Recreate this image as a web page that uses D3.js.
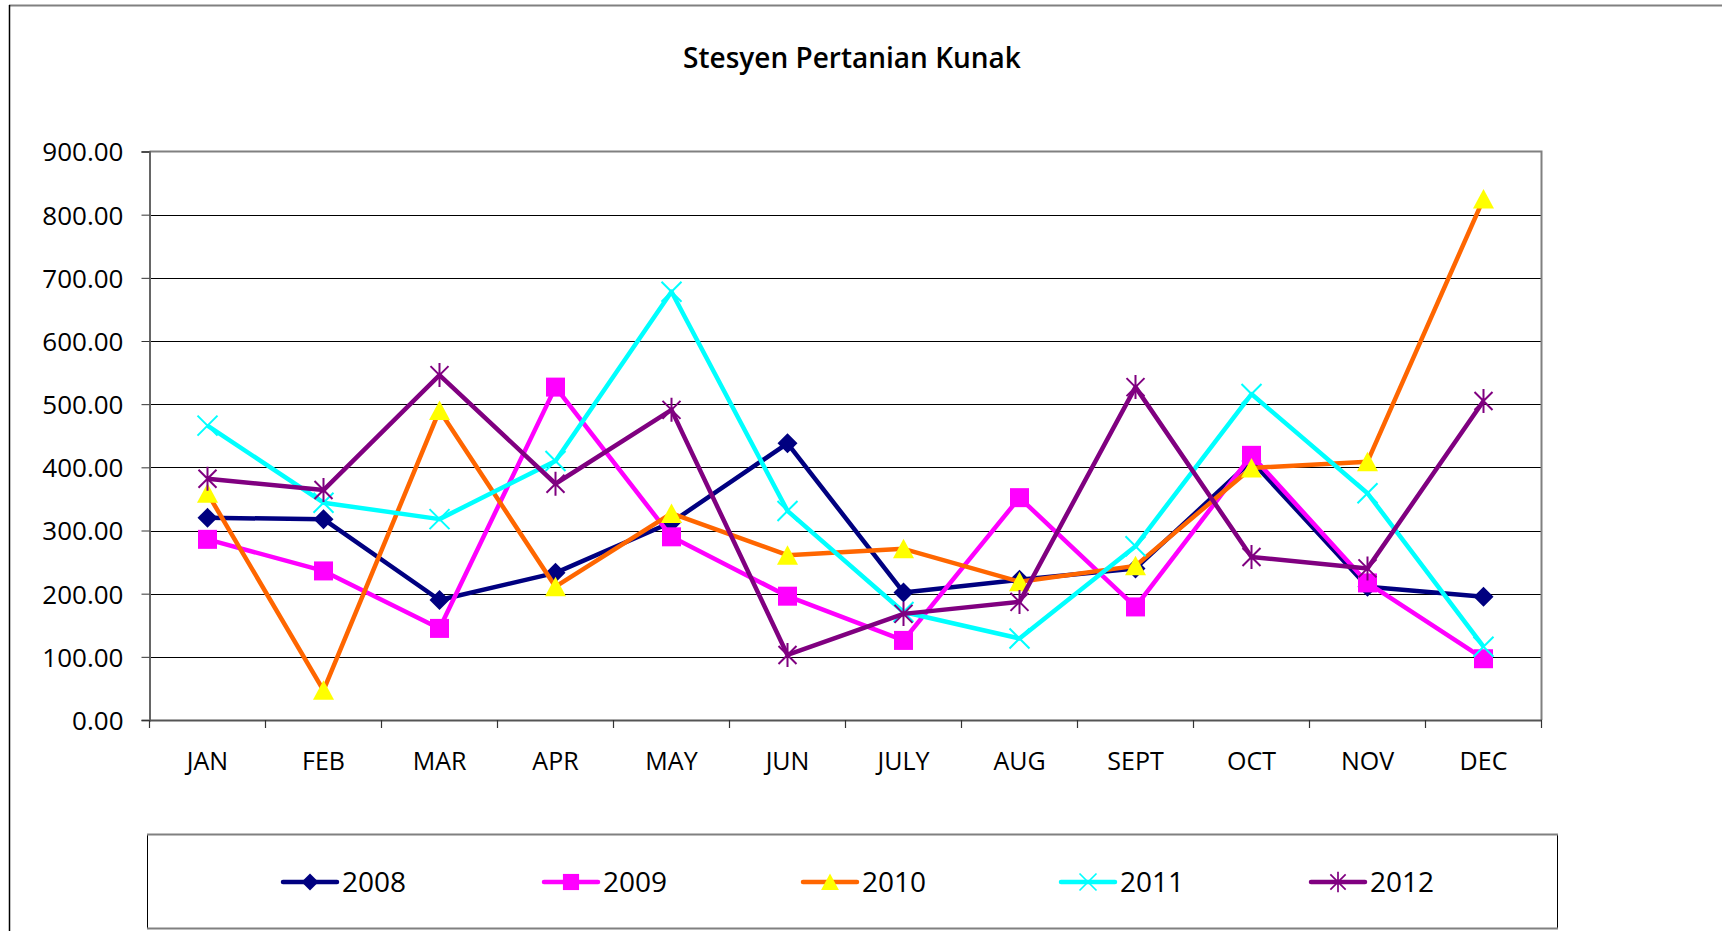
<!DOCTYPE html>
<html>
<head>
<meta charset="utf-8">
<script src="https://cdn.jsdelivr.net/npm/d3@7"></script>
<style>
  body { margin: 0; background: #fff; }
  text { font-family: "Open Sans", "DejaVu Sans", sans-serif; fill: #000; }
</style>
</head>
<body>
<svg id="chart" width="1722" height="931"></svg>
<script>
const months = ["JAN", "FEB", "MAR", "APR", "MAY", "JUN", "JULY", "AUG", "SEPT", "OCT", "NOV", "DEC"];
const years = ["2008", "2009", "2010", "2011", "2012"];

const v2008 = [320, 318, 190, 233, 313, 438, 202, 222, 240, 410, 211, 195];
const v2009 = [286, 236, 145, 527, 290, 196, 126, 352, 179, 419, 217, 97];
const v2010 = [359, 47, 490, 211, 327, 261, 271, 219, 244, 399, 409, 825];
const v2011 = [466, 344, 318, 410, 678, 331, 171, 129, 275, 516, 359, 116];
const v2012 = [382, 364, 546, 374, 491, 103, 168, 187, 527, 258, 240, 505];

const y_ticks = [0, 100, 200, 300, 400, 500, 600, 700, 800, 900];

// how each series looks, Excel 2003 style
const styles = [
  { line: "#000080", fill: "#000080", stroke: "none", marker: "diamond" },
  { line: "#ff00ff", fill: "#ff00ff", stroke: "none", marker: "square" },
  { line: "#ff6600", fill: "#ffff00", stroke: "none", marker: "triangle" },
  { line: "#00ffff", fill: "none", stroke: "#00ffff", marker: "x" },
  { line: "#800080", fill: "none", stroke: "#800080", marker: "star" },
];

const series = [v2008, v2009, v2010, v2011, v2012].map((values, i) => ({
  name: years[i],
  values: values,
  style: styles[i],
}));

const marker_paths = {
  diamond: "M0,-10L10,0L0,10L-10,0Z",
  square: "M-9.5,-9.5H9.5V9.5H-9.5Z",
  triangle: "M0,-10L10.5,9.5H-10.5Z",
  x: "M-10,-10L10,10M-10,10L10,-10",
  star: "M-9,-9L9,9M-9,9L9,-9M0,-12L0,12",
};

// legend entry offsets along the legend box
const legend_x = [283, 544, 803, 1061, 1311];

const svg = d3.select("#chart");

const plot_left = 149.5, plot_right = 1541.5, plot_top = 151.5, plot_bottom = 720;

const x = d3.scaleBand().domain(months).range([plot_left, plot_right]);
const y = d3.scaleLinear().domain([0, 900]).range([plot_bottom, plot_top]);
const cx = (m) => x(m) + x.bandwidth() / 2;

// outer chart border
svg.append("line")
  .attr("x1", 9).attr("x2", 1722).attr("y1", 5.5).attr("y2", 5.5)
  .attr("stroke", "#808080").attr("stroke-width", 2);
svg.append("line")
  .attr("x1", 9.5).attr("x2", 9.5).attr("y1", 5).attr("y2", 931)
  .attr("stroke", "#000").attr("stroke-width", 1.5);

svg.append("text")
  .attr("x", 852).attr("y", 68)
  .attr("text-anchor", "middle")
  .attr("font-size", 28).attr("font-weight", 600)
  .text("Stesyen Pertanian Kunak");

// gridlines
svg.append("g")
  .selectAll("line")
  .data(y_ticks.filter((t) => t > 0 && t < 900))
  .join("line")
  .attr("x1", plot_left).attr("x2", plot_right)
  .attr("y1", (t) => Math.round(y(t)) + 0.5).attr("y2", (t) => Math.round(y(t)) + 0.5)
  .attr("stroke", "#000").attr("stroke-width", 1);

// plot border top + right
svg.append("path")
  .attr("d", `M${plot_left},${plot_top}H${plot_right}V${plot_bottom}`)
  .attr("fill", "none").attr("stroke", "#808080").attr("stroke-width", 2);

// y axis
const y_axis = svg.append("g")
  .attr("transform", `translate(${plot_left},0)`)
  .call(d3.axisLeft(y).tickValues(y_ticks).tickFormat(d3.format(".2f")).tickSize(8).tickPadding(18));
y_axis.select(".domain").attr("stroke", "#666").attr("stroke-width", 2);
y_axis.selectAll(".tick line").attr("stroke", "#333");
y_axis.selectAll(".tick text")
  .attr("font-family", "Open Sans").attr("font-size", 26).attr("dy", "0.36em");

// x axis: labels at band centres, ticks between categories
const x_axis = svg.append("g")
  .attr("transform", `translate(0,${plot_bottom})`)
  .call(d3.axisBottom(x).tickSize(0));
x_axis.select(".domain").attr("stroke", "#555").attr("stroke-width", 2);
x_axis.selectAll(".tick text")
  .attr("font-family", "Open Sans").attr("font-size", 25)
  .attr("y", 50).attr("dy", 0);
x_axis.selectAll(".boundary")
  .data(months.map((m) => x(m)).concat([plot_right]))
  .join("line")
  .attr("class", "boundary")
  .attr("x1", (d) => d).attr("x2", (d) => d)
  .attr("y1", 0).attr("y2", 8)
  .attr("stroke", "#333").attr("stroke-width", 1.2);

// series
const line = d3.line()
  .x((d, i) => cx(months[i]))
  .y((d) => y(d));

series.forEach((s) => {
  const g = svg.append("g");
  g.append("path")
    .datum(s.values)
    .attr("d", line)
    .attr("fill", "none")
    .attr("stroke", s.style.line)
    .attr("stroke-width", 4.5)
    .attr("stroke-linejoin", "round");
  g.selectAll("path.marker")
    .data(s.values)
    .join("path")
    .attr("class", "marker")
    .attr("transform", (d, i) => `translate(${cx(months[i])},${y(d)})`)
    .attr("d", marker_paths[s.style.marker])
    .attr("fill", s.style.fill)
    .attr("stroke", s.style.stroke)
    .attr("stroke-width", 2);
});

// legend
svg.append("rect")
  .attr("x", 147.5).attr("y", 834.5).attr("width", 1410).attr("height", 94)
  .attr("fill", "none").attr("stroke", "#000").attr("stroke-width", 1);
svg.append("line")
  .attr("x1", 147).attr("x2", 1558).attr("y1", 834.5).attr("y2", 834.5)
  .attr("stroke", "#808080").attr("stroke-width", 2);
svg.append("line")
  .attr("x1", 147).attr("x2", 1558).attr("y1", 928.5).attr("y2", 928.5)
  .attr("stroke", "#808080").attr("stroke-width", 2);

const legend = svg.append("g")
  .selectAll("g")
  .data(series)
  .join("g")
  .attr("transform", (s, i) => `translate(${legend_x[i]},882)`);

legend.append("line")
  .attr("x1", 0).attr("x2", 54).attr("y1", 0).attr("y2", 0)
  .attr("stroke", (s) => s.style.line)
  .attr("stroke-width", 4.5)
  .attr("stroke-linecap", "round");
legend.append("path")
  .attr("transform", "translate(27,0) scale(0.85)")
  .attr("d", (s) => marker_paths[s.style.marker])
  .attr("fill", (s) => s.style.fill)
  .attr("stroke", (s) => s.style.stroke)
  .attr("stroke-width", 2);
legend.append("text")
  .attr("x", 59).attr("y", 10)
  .attr("font-size", 28)
  .text((s) => s.name);
</script>
</body>
</html>
